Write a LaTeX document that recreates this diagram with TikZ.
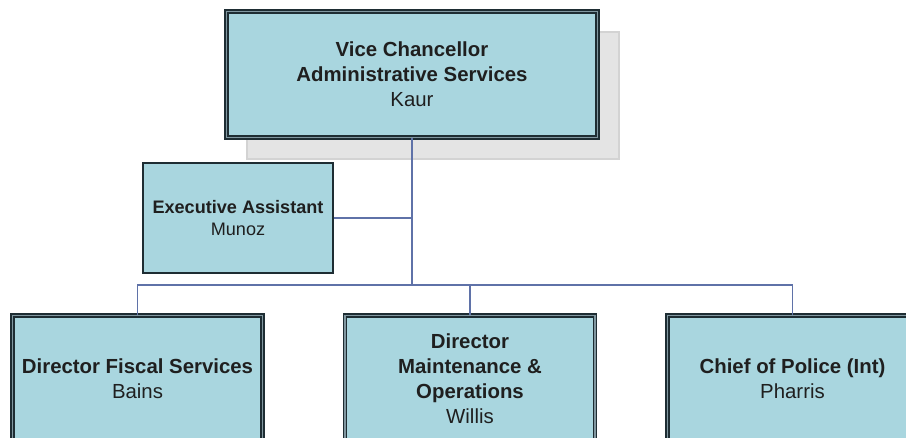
\documentclass[tikz,border=0pt]{standalone}
\usepackage{fontspec}
\setmainfont{Liberation Sans}
\usetikzlibrary{positioning,calc,backgrounds}

\definecolor{boxfill}{HTML}{A9D6DF}
\definecolor{boxline}{HTML}{1E2D33}
\definecolor{boxgap}{HTML}{8197A0}
\definecolor{linkblue}{HTML}{5F72A8}
\definecolor{shade}{HTML}{E4E4E4}
\definecolor{shadeline}{HTML}{D3D3D3}

\begin{document}
\begin{tikzpicture}[x=0.02cm, y=-0.02cm,
    post/.style={draw=boxline, double=boxgap, line width=0.75pt, double distance=0.9pt,
        fill=boxfill, inner sep=0pt, align=center, text=black!88,
        font=\fontsize{11.6}{14.2}\selectfont},
    head/.style={post, minimum width=7.42cm, minimum height=2.52cm},
    dept/.style={post, minimum width=5cm, minimum height=2.52cm},
    aide/.style={draw=boxline, line width=1.1pt, fill=boxfill, inner sep=0pt,
        align=center, text=black!88, font=\fontsize{10.3}{13}\selectfont,
        minimum width=3.8cm, minimum height=2.2cm},
    link/.style={draw=linkblue, line width=0.8pt}]
    \useasboundingbox (0,0) rectangle (906,437);
    \clip (0,0) rectangle (906,437);

    % connectors first, boxes sit on top
    \coordinate (bus) at (412,285);

    \node[head] (vc) at (412,74.5) {\textbf{Vice Chancellor}\\\textbf{Administrative Services}\\Kaur};
    \begin{scope}[on background layer]
        \draw[fill=shade, draw=shadeline, line width=1pt]
            ($(vc.south west)+(21,21)$) rectangle ($(vc.north east)+(21,21)$);
    \end{scope}

    \node[aide] (ea) at (238,218) {\textbf{Executive Assistant}\\Munoz};

    \node[dept] (fis) at (137.5,378.5) {\textbf{Director Fiscal Services}\\Bains};
    \node[dept] (ops) at (470,378.5) {\textbf{Director}\\\textbf{Maintenance \&}\\\textbf{Operations}\\Willis};
    \node[dept] (pol) at (792.5,378.5) {\textbf{Chief of Police (Int)}\\Pharris};

    \draw[link] (vc.south) -- (bus);
    \draw[link] (ea.east) -- (ea.east -| bus);
    \draw[link] (fis.north) |- (bus) -| (pol.north);
    \draw[link] (ops.north) -- (ops.north |- bus);
\end{tikzpicture}
\end{document}
